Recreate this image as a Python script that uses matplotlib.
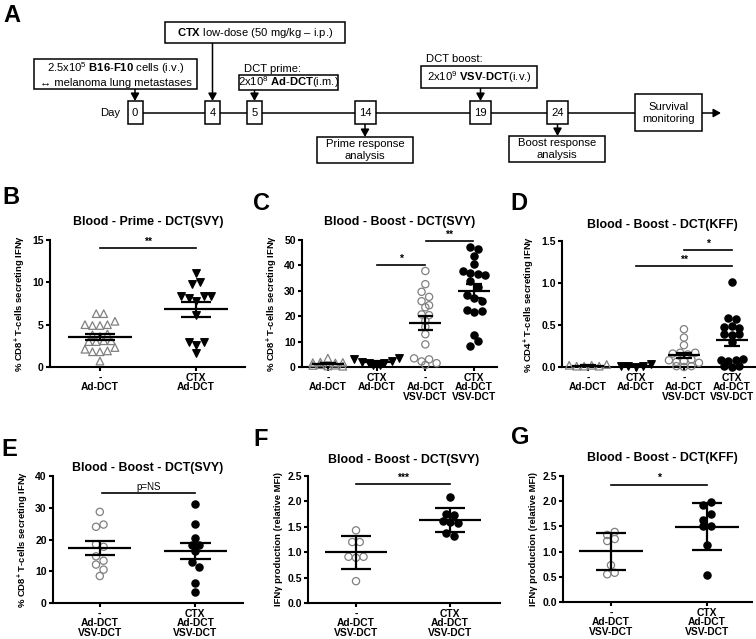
import numpy as np
import matplotlib.pyplot as plt
from matplotlib.patches import Rectangle

plt.rcParams['font.family'] = ['Liberation Sans', 'DejaVu Sans']
plt.rcParams['mathtext.fontset'] = 'custom'
plt.rcParams['mathtext.rm'] = 'Liberation Sans'
plt.rcParams['mathtext.bf'] = 'Liberation Sans:bold'
plt.rcParams['mathtext.it'] = 'Liberation Sans:italic'

# =========================================================
# DATA
# =========================================================

DAYS = ["0", "4", "5", "14", "19", "24"]

# B - prime, DCT(SVY), % CD8+ IFNg+
b_ad = [6.3, 6.3, 5.0, 4.9, 4.9, 5.0, 5.4, 3.8, 3.6, 3.9, 3.0, 3.0, 3.1, 3.1,
        2.1, 1.8, 1.8, 1.9, 2.3, 0.7]
b_ctx = [11.1, 9.8, 10.0, 8.4, 8.2, 7.8, 8.4, 8.4, 6.1, 2.9, 2.6, 2.9, 1.7]

# C - boost, DCT(SVY), % CD8+ IFNg+
c_ad = [1.7, 1.9, 3.5, 1.6, 1.8, 0.6, 0.9, 0.4, 0.7, 0.3]
c_ctx = [3.2, 2.1, 1.5, 1.3, 1.6, 2.2, 3.4, 0.6, 0.8]
c_vsv = [37.8, 32.6, 29.6, 27.6, 25.9, 24.3, 23.5, 20.7, 20.4, 18.2, 15.8, 12.9,
         8.9, 3.4, 2.2, 3.0, 1.5, 0.8]
c_ctx_vsv = [47.3, 46.5, 43.7, 40.4, 37.8, 37.1, 36.8, 36.2, 33.8, 31.5, 28.3,
             27.0, 26.1, 22.6, 21.7, 22.1, 12.5, 8.2, 10.1]

# D - boost, DCT(KFF), % CD4+ IFNg+
d_ad = [0.02, 0.01, 0.01, 0.02, 0.01, 0.03]
d_ctx = [0.01, 0.01, 0.0, 0.01, 0.04]
d_vsv = [0.45, 0.35, 0.26, 0.16, 0.17, 0.15, 0.17, 0.08, 0.06, 0.07, 0.09, 0.05,
         0.01, 0.0, 0.01]
d_ctx_vsv = [1.01, 0.58, 0.57, 0.48, 0.49, 0.47, 0.39, 0.38, 0.39, 0.30, 0.08,
             0.07, 0.08, 0.09, 0.01, 0.0, 0.01]

# E - boost, DCT(SVY), two groups
e_vsv = [28.7, 24.0, 24.7, 18.5, 17.7, 14.7, 13.3, 12.1, 10.5, 8.5]
e_ctx_vsv = [31.1, 24.8, 20.5, 18.4, 18.4, 16.4, 12.9, 11.2, 6.4, 3.5]

# F - relative MFI DCT(SVY)
f_vsv = [1.43, 1.20, 1.20, 0.91, 0.89, 0.91, 0.43]
f_ctx_vsv = [2.09, 1.75, 1.74, 1.62, 1.60, 1.58, 1.37, 1.32]

# G - relative MFI DCT(KFF)
g_vsv = [1.33, 1.39, 1.21, 1.25, 0.73, 0.55, 0.58]
g_ctx_vsv = [1.92, 1.99, 1.63, 1.74, 1.51, 1.51, 1.13, 0.54]

LBL_2 = ["-\nAd-DCT", "CTX\nAd-DCT"]
LBL_4 = ["-\nAd-DCT", "CTX\nAd-DCT", "-\nAd-DCT\nVSV-DCT", "CTX\nAd-DCT\nVSV-DCT"]
LBL_V = ["-\nAd-DCT\nVSV-DCT", "CTX\nAd-DCT\nVSV-DCT"]

CD8_LABEL = r"% CD8$^{\mathbf{+}}$ T-cells secreting IFNγ"
CD4_LABEL = r"% CD4$^{\mathbf{+}}$ T-cells secreting IFNγ"
MFI_LABEL = "IFNγ production (relative MFI)"

# =========================================================
# FIGURE
# =========================================================

W, H = 756, 639
fig = plt.figure(figsize=(W / 100, H / 100), dpi=100)

canvas = fig.add_axes([0, 0, 1, 1])
canvas.set_xlim(0, W)
canvas.set_ylim(H, 0)
canvas.axis("off")

FS_A = 8.1


def box(x0, y0, x1, y1, text=None, fs=FS_A):
    canvas.add_patch(Rectangle((x0, y0), x1 - x0, y1 - y0, fc="white",
                               ec="black", lw=1.1, zorder=3))
    if text:
        canvas.text((x0 + x1) / 2, (y0 + y1) / 2, text, ha="center",
                    va="center", fontsize=fs, zorder=4, linespacing=1.25)


def arrow(x0, y0, x1, y1):
    canvas.annotate("", xy=(x1, y1), xytext=(x0, y0), zorder=2,
                    arrowprops=dict(arrowstyle="-|>,head_length=0.45,head_width=0.25",
                                    color="k", lw=1.1, shrinkA=0, shrinkB=0,
                                    mutation_scale=10))


# ---------------- PANEL A : timeline ----------------
TL_Y = 113
canvas.plot([142, 636], [TL_Y, TL_Y], color="k", lw=1.1, zorder=1)
arrow(702, TL_Y, 721, TL_Y)

day_x = [135, 212.5, 254.5, 365, 480.5, 557.5]
for d, x in zip(DAYS, day_x):
    w = 15 if len(d) == 1 else 21
    box(x - w / 2, 101, x + w / 2, 124, d)
canvas.text(120, TL_Y, "Day", ha="right", va="center", fontsize=FS_A)

box(635, 94, 702, 131, "Survival\nmonitoring")

box(34, 59, 197, 89, "2.5x10$^5$ $\\mathbf{B16}$-$\\mathbf{F10}$ cells (i.v.)\n"
    "↔ melanoma lung metastases")
arrow(135, 89, 135, 101)

box(165, 22, 345, 43, "$\\mathbf{CTX}$ low-dose (50 mg/kg – i.p.)")
arrow(212.5, 43, 212.5, 101)

canvas.text(244, 69, "DCT prime:", ha="left", va="center", fontsize=FS_A)
box(239, 75, 338, 90, "2x10$^8$ $\\mathbf{Ad}$-$\\mathbf{DCT}$(i.m.)")
arrow(254.5, 90, 254.5, 101)

canvas.text(426, 59, "DCT boost:", ha="left", va="center", fontsize=FS_A)
box(421, 66, 537, 88, "2x10$^9$ $\\mathbf{VSV}$-$\\mathbf{DCT}$(i.v.)")
arrow(480.5, 88, 480.5, 101)

box(317, 137, 413, 163, "Prime response\nanalysis")
arrow(365, 124, 365, 137)
box(509, 136, 605, 162, "Boost response\nanalysis")
arrow(557.5, 124, 557.5, 136)

# panel letters
for letter, (x, y) in {"A": (12, 15), "B": (11, 198), "C": (261, 203),
                       "D": (519, 204), "E": (9, 450), "F": (261, 439),
                       "G": (520, 437)}.items():
    canvas.text(x, y, letter, ha="center", va="center", fontsize=17,
                fontweight="bold")


# ---------------- SCATTER PANELS ----------------
def swarm_offsets(vals, bin_units, step_units):
    vals = np.asarray(vals, dtype=float)
    order = np.argsort(-vals, kind="stable")
    offs = np.zeros(len(vals))
    i = 0
    while i < len(order):
        top = vals[order[i]]
        row = [order[i]]
        j = i + 1
        while j < len(order) and vals[order[j]] > top - bin_units:
            row.append(order[j])
            j += 1
        row.sort()
        n = len(row)
        for k, idx in enumerate(row):
            offs[idx] = (k - (n - 1) / 2) * step_units
        i = j
    return offs


STYLE = {
    "open_tri": dict(marker="^", facecolors="none", edgecolors="#808080"),
    "fill_tri": dict(marker="v", facecolors="black", edgecolors="black"),
    "open_circ": dict(marker="o", facecolors="none", edgecolors="#808080"),
    "fill_circ": dict(marker="o", facecolors="black", edgecolors="black"),
}


def scatter_panel(rect, groups, styles, xlim, ylim, yticks, yfmt, xlabels,
                  title, title_xy, ylabel, err="sem", sigs=()):
    x0, y0, x1, y1 = rect
    ax = fig.add_axes([x0 / W, 1 - y1 / H, (x1 - x0) / W, (y1 - y0) / H])
    ax.set_facecolor("none")
    px_x = (x1 - x0) / (xlim[1] - xlim[0])
    px_y = (y1 - y0) / (ylim[1] - ylim[0])

    for i, (vals, st) in enumerate(zip(groups, styles)):
        vals = np.asarray(vals, dtype=float)
        offs = swarm_offsets(vals, 6.0 / px_y, 7.5 / px_x)
        size = 30 if "tri" in st else 27
        ax.scatter(i + offs, vals, s=size, linewidths=0.9, clip_on=False,
                   zorder=3, **STYLE[st])
        m = vals.mean()
        e = vals.std(ddof=1)
        if err == "sem":
            e = e / np.sqrt(len(vals))
        ax.hlines(m, i - 0.33, i + 0.33, color="k", lw=1.6, zorder=4)
        ax.hlines([m - e, m + e], i - 0.16, i + 0.16, color="k", lw=1.6, zorder=4)
        ax.vlines(i, m - e, m + e, color="k", lw=1.6, zorder=4)

    for xa, xb, y, txt in sigs:
        ax.plot([xa, xb], [y, y], color="k", lw=1.2, clip_on=False)
        ax.text((xa + xb) / 2, y + 1.5 / px_y, txt, ha="center", va="bottom",
                fontsize=7 if txt.startswith("p") else 7.5,
                fontweight="normal" if txt.startswith("p") else "bold")

    ax.set_xlim(*xlim)
    ax.set_ylim(*ylim)
    ax.set_yticks(yticks)
    ax.set_yticklabels([yfmt.format(v) for v in yticks], fontsize=7.5,
                       fontweight="bold")
    ax.set_xticks(range(len(groups)))
    ax.set_xticklabels(xlabels, fontsize=7.4, fontweight="bold", linespacing=0.98)
    for s in ["top", "right"]:
        ax.spines[s].set_visible(False)
    for s in ["left", "bottom"]:
        ax.spines[s].set_linewidth(1.5)
    ax.tick_params(axis="y", direction="out", length=3, width=1.5, pad=1.5)
    ax.tick_params(axis="x", direction="out", length=3, width=1.5, pad=1)
    ax.set_ylabel(ylabel, fontsize=6.8, fontweight="bold", labelpad=3)
    canvas.text(title_xy[0], title_xy[1], title, ha="center", va="center",
                fontsize=8.9, fontweight="bold")
    return ax


XL2 = (-0.52, 1.51)
XL4 = (-0.53, 3.47)

scatter_panel((50, 240, 245, 367), [b_ad, b_ctx], ["open_tri", "fill_tri"],
              XL2, (0, 15), [0, 5, 10, 15], "{:.0f}", LBL_2,
              "Blood - Prime - DCT(SVY)", (148, 222), CD8_LABEL,
              sigs=[(0, 1, 14.0, "**")])

scatter_panel((302, 240, 497, 367), [c_ad, c_ctx, c_vsv, c_ctx_vsv],
              ["open_tri", "fill_tri", "open_circ", "fill_circ"],
              XL4, (0, 50), [0, 10, 20, 30, 40, 50], "{:.0f}", LBL_4,
              "Blood - Boost - DCT(SVY)", (400, 222), CD8_LABEL,
              sigs=[(1, 2, 40.2, "*"), (2.02, 2.97, 49.6, "**")])

scatter_panel((562, 241, 755, 367), [d_ad, d_ctx, d_vsv, d_ctx_vsv],
              ["open_tri", "fill_tri", "open_circ", "fill_circ"],
              (-0.54, 3.48), (0, 1.5), [0, 0.5, 1.0, 1.5], "{:.1f}", LBL_4,
              "Blood - Boost - DCT(KFF)", (662, 225), CD4_LABEL,
              sigs=[(2, 3, 1.39, "*"), (1, 3, 1.20, "**")])

scatter_panel((53, 476, 243, 603), [e_vsv, e_ctx_vsv], ["open_circ", "fill_circ"],
              (-0.49, 1.5), (0, 40), [0, 10, 20, 30, 40], "{:.0f}", LBL_V,
              "Blood - Boost - DCT(SVY)", (148, 468), CD8_LABEL,
              sigs=[(0.02, 1, 34.5, "p=NS")])

scatter_panel((308, 476, 500, 603), [f_vsv, f_ctx_vsv], ["open_circ", "fill_circ"],
              (-0.51, 1.53), (0, 2.5), [0, 0.5, 1.0, 1.5, 2.0, 2.5], "{:.1f}",
              LBL_V, "Blood - Boost - DCT(SVY)", (404, 460), MFI_LABEL,
              err="sd", sigs=[(0, 1, 2.34, "***")])

scatter_panel((563, 476, 752, 602), [g_vsv, g_ctx_vsv], ["open_circ", "fill_circ"],
              (-0.5, 1.47), (0, 2.5), [0, 0.5, 1.0, 1.5, 2.0, 2.5], "{:.1f}",
              LBL_V, "Blood - Boost - DCT(KFF)", (662, 458), MFI_LABEL,
              err="sd", sigs=[(0, 1, 2.33, "*")])

plt.savefig("out.png", dpi=100)
